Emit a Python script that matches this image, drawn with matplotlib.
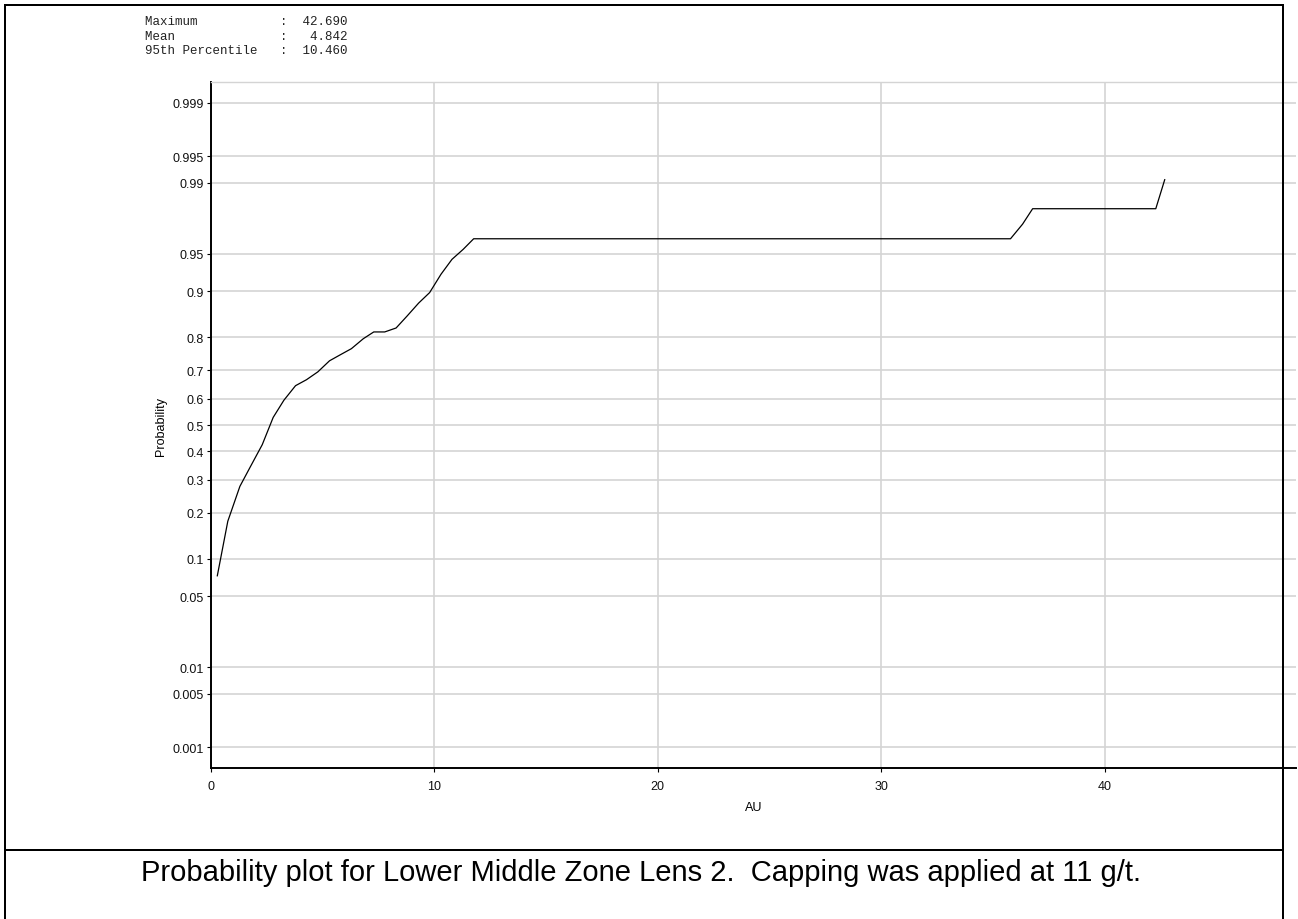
import math
import numpy as np
import matplotlib
matplotlib.use("Agg")
import matplotlib.pyplot as plt
from matplotlib.lines import Line2D

# Cumulative probability of AU grades (g/t)
au = [0.30, 0.77, 1.31, 1.79, 2.31, 2.80, 3.28, 3.80, 4.29, 4.80, 5.32, 5.81,
      6.30, 6.83, 7.30, 7.79, 8.30, 8.79, 9.31, 9.80, 10.31, 10.80, 11.30,
      11.77, 35.79, 36.33, 36.78, 42.29, 42.69]
prob = [0.074, 0.178, 0.278, 0.346, 0.425, 0.529, 0.594, 0.647, 0.668, 0.695,
        0.731, 0.750, 0.768, 0.796, 0.814, 0.814, 0.824, 0.852, 0.879, 0.898,
        0.926, 0.944, 0.954, 0.963, 0.963, 0.973, 0.981, 0.981, 0.9907]

prob_ticks = [0.001, 0.005, 0.01, 0.05, 0.1, 0.2, 0.3, 0.4, 0.5, 0.6, 0.7,
              0.8, 0.9, 0.95, 0.99, 0.995, 0.999]
prob_tick_labels = ["0.001", "0.005", "0.01", "0.05", "0.1", "0.2", "0.3",
                    "0.4", "0.5", "0.6", "0.7", "0.8", "0.9", "0.95", "0.99",
                    "0.995", "0.999"]
au_ticks = [0, 10, 20, 30, 40]

stat_names = ["Maximum", "Mean", "95th Percentile"]
stat_values = [42.690, 4.842, 10.460]

caption = "Probability plot for Lower Middle Zone Lens 2.  Capping was applied at 11 g/t."


# Normal probability scale helpers
def _ppf_scalar(p):
    p = min(max(p, 1e-12), 1 - 1e-12)
    a = [-3.969683028665376e+01, 2.209460984245205e+02, -2.759285104469687e+02,
         1.383577518672690e+02, -3.066479806614716e+01, 2.506628277459239e+00]
    b = [-5.447609879822406e+01, 1.615858368580409e+02, -1.556989798598866e+02,
         6.680131188771972e+01, -1.328068155288572e+01]
    c = [-7.784894002430293e-03, -3.223964580411365e-01, -2.400758277161838e+00,
         -2.549732539343734e+00, 4.374664141464968e+00, 2.938163982698783e+00]
    d = [7.784695709041462e-03, 3.224671290700398e-01, 2.445134137142996e+00,
         3.754408661907416e+00]
    plow = 0.02425
    if p < plow:
        q = math.sqrt(-2 * math.log(p))
        x = (((((c[0]*q + c[1])*q + c[2])*q + c[3])*q + c[4])*q + c[5]) / \
            ((((d[0]*q + d[1])*q + d[2])*q + d[3])*q + 1)
    elif p > 1 - plow:
        q = math.sqrt(-2 * math.log(1 - p))
        x = -(((((c[0]*q + c[1])*q + c[2])*q + c[3])*q + c[4])*q + c[5]) / \
            ((((d[0]*q + d[1])*q + d[2])*q + d[3])*q + 1)
    else:
        q = p - 0.5
        r = q * q
        x = (((((a[0]*r + a[1])*r + a[2])*r + a[3])*r + a[4])*r + a[5])*q / \
            (((((b[0]*r + b[1])*r + b[2])*r + b[3])*r + b[4])*r + 1)
    # one Newton refinement
    e = 0.5 * math.erfc(-x / math.sqrt(2)) - p
    u = e * math.sqrt(2 * math.pi) * math.exp(x * x / 2)
    return x - u / (1 + x * u / 2)


def norm_ppf(p):
    return np.vectorize(_ppf_scalar, otypes=[float])(np.asarray(p, dtype=float))


def norm_cdf(z):
    return np.vectorize(lambda v: 0.5 * math.erfc(-v / math.sqrt(2)),
                        otypes=[float])(np.asarray(z, dtype=float))


W, H = 1298, 920
fig = plt.figure(figsize=(W / 100, H / 100), dpi=100)
fig.patch.set_facecolor("white")

ax_left, ax_right, ax_top, ax_bottom = 210.6, 1296, 83, 769
ax = fig.add_axes([ax_left / W, 1 - ax_bottom / H,
                   (ax_right - ax_left) / W, (ax_bottom - ax_top) / H])

ax.set_yscale("function", functions=(norm_ppf, norm_cdf))
ax.plot(au, prob, color="black", lw=0.9, zorder=3)

ax.set_xlim(0, (ax_right - ax_left) / 22.35)
ax.set_ylim(0.0005, 0.9995)
ax.set_xticks(au_ticks)
ax.set_xticklabels([str(t) for t in au_ticks])
ax.set_yticks(prob_ticks)
ax.set_yticklabels(prob_tick_labels)
ax.yaxis.set_minor_locator(matplotlib.ticker.NullLocator())
ax.xaxis.set_minor_locator(matplotlib.ticker.NullLocator())

ax.grid(True, color="#d4d4d4", lw=1.2)
ax.set_axisbelow(True)
ax.spines["right"].set_visible(False)
ax.spines["top"].set_color("#d4d4d4")
ax.spines["top"].set_linewidth(1.0)
ax.spines["left"].set_linewidth(1.4)
ax.spines["bottom"].set_linewidth(1.4)

lab_font = dict(family="Liberation Sans", size=9)
ax.tick_params(axis="both", length=3, width=0.8, color="black",
               labelsize=9, labelcolor="#111111", pad=2)
for lbl in ax.get_xticklabels() + ax.get_yticklabels():
    lbl.set_fontfamily("Liberation Sans")
ax.tick_params(axis="x", pad=6)
ax.set_xlabel("AU", fontdict=lab_font, labelpad=6)
ax.set_ylabel("Probability", fontdict=lab_font, labelpad=4)

# Summary statistics block
for i, (name, val) in enumerate(zip(stat_names, stat_values)):
    line = f"{name:<18}:  {val:6.3f}"
    fig.text(145 / W, 1 - (22 + 14.5 * i) / H, line, family="Liberation Mono",
             size=9, color="#222222", va="center", ha="left")

# Frame around the figure and the caption cell
def hline(y, x0, x1, lw=2.0):
    fig.add_artist(Line2D([x0 / W, x1 / W], [1 - y / H, 1 - y / H],
                          color="black", lw=lw * 0.72, zorder=10,
                          transform=fig.transFigure, solid_capstyle="butt"))


def vline(x, y0, y1, lw=2.0):
    fig.add_artist(Line2D([x / W, x / W], [1 - y0 / H, 1 - y1 / H],
                          color="black", lw=lw * 0.72, zorder=10,
                          transform=fig.transFigure, solid_capstyle="butt"))


hline(5.5, 4, 1284)
vline(5, 4.5, 920)
vline(1283, 4.5, 920)
hline(851, 4, 1284)

fig.text(641 / W, 1 - 873 / H, caption, family="Liberation Sans", size=21,
         color="black", ha="center", va="center")

fig.savefig("out.png", dpi=100)
